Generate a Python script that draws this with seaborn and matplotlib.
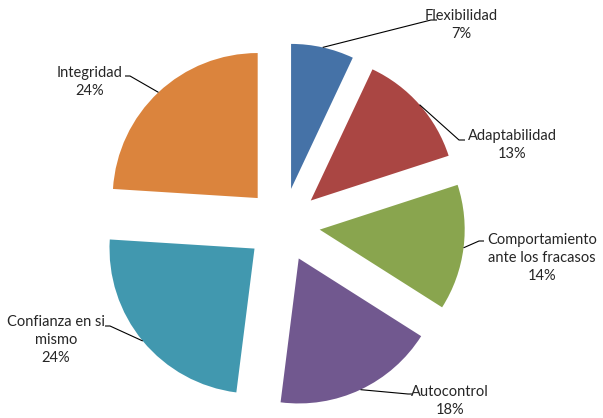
import numpy as np
import matplotlib
matplotlib.use("Agg")
import matplotlib.pyplot as plt
import seaborn as sns

# ---- data ----
categories = ["Flexibilidad", "Adaptabilidad", "Comportamiento\nante los fracasos",
              "Autocontrol", "Confianza en si\nmismo", "Integridad"]
values = [7, 13, 14, 18, 24, 24]
pct_labels = ["7%", "13%", "14%", "18%", "24%", "24%"]

# ---- style ----
sns.set_theme(style="white")
plt.rcParams['font.family'] = ['Lato', 'DejaVu Sans']
colors = ["#4572A7", "#AA4643", "#89A54E", "#71588F", "#4198AF", "#DB843D"]

W, H = 603, 418
fig = plt.figure(figsize=(W / 100, H / 100), dpi=100)
ax = fig.add_axes([0, 0, 1, 1])

radius = 145
center = (283, H - 225)
# matplotlib's explode offset is in data units when radius != 1
explode = [0.255 * radius] * len(values)

wedges, _ = ax.pie(values, colors=colors, startangle=90, counterclock=False,
                   explode=explode, radius=radius, center=center,
                   wedgeprops=dict(linewidth=0))
ax.set_xlim(0, W)
ax.set_ylim(0, H)
ax.set_aspect('equal')
ax.axis('off')

# label layout (image pixel coordinates, y downward)
text_pos = [(461, 25), (512, 145), (542, 258), (450, 401), (56, 340), (90, 82)]
elbow = [(431, 20), (459, 140), (479, 241), (408, 394), (110, 326), (130, 76)]
line_end = [(437, 20), (465, 140), (484, 241), (413, 394), (105, 326), (125, 76)]

for i, w in enumerate(wedges):
    mid = np.deg2rad((w.theta1 + w.theta2) / 2)
    cx, cy = w.center
    ax_pt = (cx + w.r * np.cos(mid), cy + w.r * np.sin(mid))
    ex, ey = elbow[i]
    lx, ly = line_end[i]
    ax.plot([ax_pt[0], ex, lx], [ax_pt[1], H - ey, H - ly],
            color="#000000", lw=0.8, solid_capstyle='butt')
    tx, ty = text_pos[i]
    ax.text(tx, H - ty, categories[i] + "\n" + pct_labels[i],
            ha='center', va='center', fontsize=10.5, color="#262626",
            linespacing=1.35)

fig.savefig("out.png", dpi=100)
